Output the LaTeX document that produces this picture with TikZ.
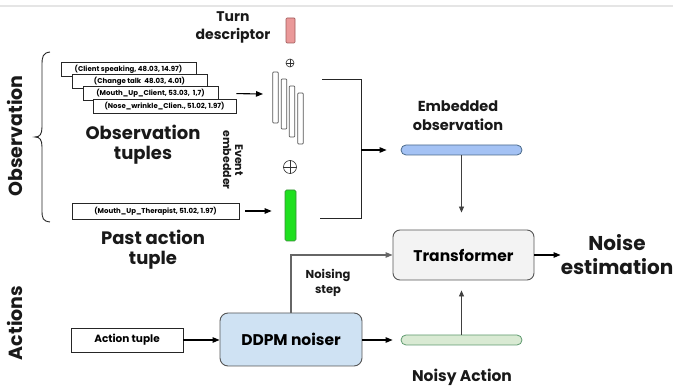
\documentclass[tikz,border=0pt]{standalone}
\usepackage{fontspec}
\setmainfont{Poppins}
\usetikzlibrary{arrows.meta}
\definecolor{pinkf}{HTML}{EA9999}
\definecolor{pinkd}{HTML}{A05A5A}
\definecolor{greenf}{HTML}{1FE01F}
\definecolor{greend}{HTML}{3A8A3A}
\definecolor{bluef}{HTML}{A4C2F4}
\definecolor{blued}{HTML}{4A6A8A}
\definecolor{ddpmf}{HTML}{CFE2F3}
\definecolor{noisyf}{HTML}{D9EAD3}
\definecolor{noisyd}{HTML}{5E9A6E}
\definecolor{transf}{HTML}{F3F3F3}
\definecolor{edge}{HTML}{555555}
\newcommand\myfs[2]{\fontsize{#1}{#2}\selectfont}
\begin{document}
\begin{tikzpicture}[x=1pt,y=-1pt,
  lbl/.style={font=\bfseries, align=center, inner sep=0pt, text=black!90},
  tup/.style={draw=black!85, fill=white, line width=0.8pt, minimum height=14pt, inner sep=0pt, font=\myfs{7}{8}\bfseries},
  bar/.style={draw=edge, fill=white, line width=0.7pt, minimum width=5.5pt, inner sep=0pt, rounded corners=0.8pt},
  arr/.style={-{Triangle[length=7pt,width=5.5pt]}, line width=1.1pt, black},
  garr/.style={-{Triangle[length=7pt,width=5.5pt]}, line width=1.1pt, black!60},
  thinarr/.style={-{Triangle[length=6pt,width=5pt]}, line width=0.8pt, black!75},
  osum/.style={circle, draw=black!80, line width=0.6pt, inner sep=0pt}
]
\useasboundingbox (0,0) rectangle (673,387);
\draw[black!10, line width=1.5pt] (0,6) -- (673,6);

% side labels
\node[lbl, rotate=90, font=\myfs{19}{22}\bfseries] (obsLbl) at (15,136) {Observation};
\node[lbl, rotate=90, font=\myfs{19}{22}\bfseries] (actLbl) at (15,323) {Actions};
\draw[black!85, line width=0.9pt] (50,52) .. controls (43,53) and (42,56) .. (42,65) -- (42,127)
  .. controls (42,134) and (40,137) .. (35,137) .. controls (40,137) and (42,140) .. (42,147)
  -- (42,210) .. controls (42,219) and (43,221) .. (50,222);

% turn descriptor
\node[lbl, font=\myfs{14}{18}\bfseries] (turnLbl) at (233,27) {Turn\\descriptor};
\node[draw=pinkd, fill=pinkf, line width=0.7pt, minimum width=9pt, minimum height=25pt, inner sep=0pt, rounded corners=1pt] (turn) at (290.5,30.5) {};
\node[osum, minimum size=8pt] (p1) at (290,63) {};
\draw[black!80, line width=0.6pt] (p1.north) -- (p1.south) (p1.west) -- (p1.east);

% observation tuples
\node[tup, minimum width=135pt] (t1) at (128.5,69) {(Client speaking, 48.03, 14.97)};
\node[tup, minimum width=135pt] (t2) at (139.5,81) {(Change talk\ \ 48.03, 4.01)};
\node[tup, minimum width=135pt] (t3) at (150.5,93) {(Mouth\_Up\_Client, 53.03,\ \ 1,7)};
\node[tup, minimum width=143pt] (t4) at (164.5,106) {(Nose\_wrinkle\_Clien., 51.02, 1.97)};
\node[lbl, font=\myfs{18}{20}\bfseries] (obsT) at (143,145) {Observation\\tuples};

% event embedder
\node[bar, minimum height=51pt] (b1) at (275.5,97.5) {};
\node[bar, minimum height=50pt] (b2) at (284,104) {};
\node[bar, minimum height=51pt] (b3) at (292,111.5) {};
\node[bar, minimum height=51pt] (b4) at (300.5,118.5) {};
\coordinate (embIn) at (263,94);
\draw[arr] ([yshift=5pt]t4.north east) -- (embIn);
\node[lbl, rotate=-90, font=\myfs{11}{12}\bfseries] (evLbl) at (233,160) {Event\\embedder};
\node[osum, minimum size=13pt] (p2) at (290,167) {};
\draw[black!80, line width=0.6pt] (p2.north) -- (p2.south) (p2.west) -- (p2.east);

% past action
\node[draw=greend, fill=greenf, line width=0.7pt, minimum width=11pt, minimum height=51pt, inner sep=0pt, rounded corners=1.5pt] (green) at (290.5,215.5) {};
\node[tup, minimum width=167pt, minimum height=16pt] (pa) at (155.5,211) {(Mouth\_Up\_Therapist, 51.02, 1.97)};
\draw[arr, shorten <=6pt, shorten >=13pt] (pa.east) -- (pa.east -| green.west);
\node[lbl, font=\myfs{18}{20}\bfseries] (paLbl) at (153,250) {Past action\\tuple};

% bracket to embedded observation
\coordinate (bt) at (322,79);
\coordinate (bb) at (320,218);
\coordinate (bm) at (361,150);
\draw[black!85, line width=0.9pt] (bt) -- (bt -| bm) -- (bb -| bm) -- (bb);
\node[draw=blued, fill=bluef, line width=0.8pt, minimum width=121pt, minimum height=10pt, inner sep=0pt, rounded corners=5pt] (emb) at (461.5,150) {};
\draw[arr, shorten >=14pt] (bm) -- (emb.west |- bm);
\node[lbl, font=\myfs{14.5}{19}\bfseries] (embLbl) at (458,115.5) {Embedded\\observation};

% transformer
\node[draw=edge, fill=transf, line width=0.9pt, minimum width=141pt, minimum height=50pt, inner sep=0pt, rounded corners=7pt, font=\myfs{15.5}{18}\bfseries] (trans) at (463.5,255) {Transformer};
\draw[thinarr, shorten >=17pt] (emb.south) -- (emb.south |- trans.north);
\node[lbl, font=\myfs{20}{24}\bfseries] (est) at (617,255) {Noise\\estimation};
\draw[arr] (trans.east) -- (est.west |- trans.east);

% actions
\node[draw=black!85, fill=white, line width=0.9pt, minimum width=112pt, minimum height=24pt, inner sep=0pt, font=\myfs{10.5}{12}\bfseries] (at) at (127,340) {Action tuple};
\node[draw=edge, fill=ddpmf, line width=0.9pt, minimum width=142pt, minimum height=53pt, inner sep=0pt, rounded corners=8pt, font=\myfs{15.5}{18}\bfseries] (ddpm) at (291,339.5) {DDPM noiser};
\draw[arr] (at.east) -- (ddpm.west |- at.east);
\node[draw=noisyd, fill=noisyf, line width=0.8pt, minimum width=121pt, minimum height=10pt, inner sep=0pt, rounded corners=5pt] (noisy) at (461.5,340) {};
\draw[arr, shorten >=8pt] (ddpm.east |- noisy) -- (noisy.west);
\draw[thinarr, shorten >=10pt] (noisy.north) -- (noisy.north |- trans.south);
\node[lbl, font=\myfs{15.5}{18}\bfseries] (noisyLbl) at (462,377) {Noisy Action};
\draw[garr] (ddpm.north) |- (trans.west);
\node[lbl, font=\myfs{11.5}{15}\bfseries] (nsLbl) at (328,283) {Noising\\step};
\end{tikzpicture}
\end{document}
